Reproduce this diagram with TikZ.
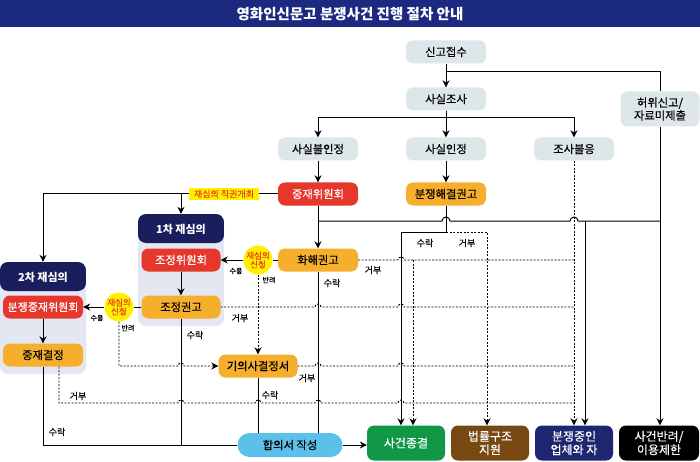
\documentclass[tikz,border=0pt]{standalone}
\usepackage{fontspec}
\setmainfont{Noto Sans CJK KR}
\newfontfamily\mdf{Noto Sans CJK KR}[FakeBold=0.35]
\usetikzlibrary{arrows.meta}

\definecolor{ttl}{RGB}{27,42,128}
\definecolor{gybg}{RGB}{221,231,233}
\definecolor{rdbg}{RGB}{230,55,45}
\definecolor{ogbg}{RGB}{246,175,44}
\definecolor{hdr}{RGB}{26,30,92}
\definecolor{grpbg}{RGB}{226,231,241}
\definecolor{yel}{RGB}{255,240,0}
\definecolor{rdtx}{RGB}{232,70,30}
\definecolor{sky}{RGB}{92,192,234}
\definecolor{grn}{RGB}{16,152,72}
\definecolor{brn}{RGB}{120,72,18}
\definecolor{nvy}{RGB}{30,38,112}

\begin{document}
\begin{tikzpicture}[
		x=1pt, y=-1pt
		,every node/.append style={inner sep=1pt, align=center}
		,box/.style={rounded corners=7pt, minimum width=80pt, minimum height=23pt, font=\mdf\fontsize{11.3}{12.8}\selectfont}
		,gy/.style={box, fill=gybg}
		,rd/.style={box, fill=rdbg, text=white}
		,og/.style={box, fill=ogbg}
		,fin/.style={box, minimum width=78pt, minimum height=35pt, text=white, font=\mdf\fontsize{12}{13.5}\selectfont}
		,grp/.style={fill=grpbg, rounded corners=8pt, minimum width=86pt, minimum height=112pt,
			path picture={\fill[hdr] (path picture bounding box.north west) rectangle ([yshift=-29pt]path picture bounding box.north east);}}
		,hd/.style={text=white, font=\bfseries\fontsize{11}{12}\selectfont}
		,yc/.style={circle, fill=yel, text=rdtx, minimum size=29pt, inner sep=0pt, font=\mdf\fontsize{8.5}{9}\selectfont}
		,yb/.style={fill=yel, text=rdtx, minimum width=70pt, minimum height=12pt, inner sep=0.5pt, font=\mdf\fontsize{9}{9.5}\selectfont}
		,lbl/.style={font=\mdf\fontsize{9}{10}\selectfont}
		,sm/.style={font=\mdf\fontsize{7}{7.5}\selectfont}
		,ln/.style={line width=1pt}
		,arr/.style={ln, -{Stealth[length=7pt,width=7pt]}}
		,rej/.style={line width=0.9pt, dash pattern=on 2pt off 1.5pt}
		,rarr/.style={rej, -{Stealth[length=7pt,width=7pt]}}
	]
	\useasboundingbox (0,0) rectangle (700,462);
	\fill[white] (0,0) rectangle (700,462);
	\fill[ttl] (0,0) rectangle (700,27);
	\node [text=white, font=\bfseries\fontsize{14.5}{16}\selectfont] (title) at (350,14) {영화인신문고 분쟁사건 진행 절차 안내};

	% top part
	\node [gy] (rcv) at (446,52) {신고접수};
	\node [gy] (inv) at (446,99) {사실조사};
	\node [gy, minimum width=79pt, minimum height=35pt] (fake) at (660,109) {허위신고/\\자료미제출};
	\node [gy] (nofact) at (318,149) {사실불인정};
	\node [gy] (fact) at (446,149) {사실인정};
	\node [gy] (refuse) at (574,149) {조사불응};
	\node [rd] (arb) at (318,194) {중재위원회};
	\node [og] (rec) at (446,194) {분쟁해결권고};
	\node [yb] (ex) at (224,194) {재심의 직권개최};

	% review groups
	\node [grp] (g1) at (181,270) {};
	\node [hd] (g1h) at (181,229) {1차 재심의};
	\node [rd, minimum width=79pt] (medc) at (181,260) {조정위원회};
	\node [og, minimum width=79pt] (medr) at (181,307) {조정권고};
	\node [grp] (g2) at (43,318) {};
	\node [hd] (g2h) at (43,277) {2차 재심의};
	\node [rd, inner sep=0pt, font=\mdf\fontsize{11}{12.5}\selectfont] (dcom) at (43,307) {분쟁중재위원회};
	\node [og] (adec) at (43,355) {중재결정};

	\node [og] (conc) at (318,260) {화해권고};
	\node [yc] (ap1) at (258,260) {재심의\\신청};
	\node [yc, minimum size=28pt] (ap2) at (119,307) {재심의\\신청};
	\node [og, minimum width=79pt] (decl) at (258,366) {기의사결정서};
	\node [box, fill=sky, rounded corners=12pt, minimum width=105pt, minimum height=24pt] (agr) at (290,445) {합의서 작성};

	% results
	\node [fin, fill=grn] (close) at (406,443) {사건종결};
	\node [fin, fill=brn] (legal) at (490,443) {법률구조\\지원};
	\node [fin, fill=nvy] (notice) at (574,443) {분쟁중인\\업체와 자};
	\node [fin, fill=black, minimum width=80pt] (reject) at (659,443) {사건반려/\\이용제한};

	\coordinate (top) at (446,72);
	\coordinate (sp) at (446,118);
	\coordinate (ja) at (318,221);
	\coordinate (jb) at (585,221);
	\coordinate (rj) at (446,232);
	\coordinate (rk) at (413,260);

	% solid
	\draw[arr] (rcv) -- (inv);
	\draw[ln] (top) -| (fake.north);
	\draw[arr] (inv) -- (fact);
	\draw[arr] (sp) -| (nofact.north);
	\draw[arr] (sp) -| (refuse.north);
	\draw[arr] (nofact) -- (arb);
	\draw[arr] (fact) -- (rec);
	\draw[arr] (arb) -- (conc);
	\draw[ln] (arb.west) -- (ex.east);
	\draw[arr] (ex.west) -| (g2.north);
	\draw[arr] (g1.north |- ex.west) -- (g1.north);
	\draw[ln] (ja) -- (442,221) arc[start angle=180, end angle=0, radius=4pt] -- (570,221) arc[start angle=180, end angle=0, radius=4pt] -- (fake.south |- ja);
	\draw[arr] (fake.south) -- (fake.south |- reject.north);
	\draw[arr] (jb) -- (jb |- notice.north);
	\draw[arr] (rec.south) -- (rj) -| ([xshift=-5pt]close.north);
	\draw[ln] (conc.west) -- (ap1.east);
	\draw[arr] (ap1.west) -- (medc.east);
	\draw[arr] (medc) -- (medr);
	\draw[ln] (medr.west) -- (ap2.east);
	\draw[arr] (ap2.west) -- (dcom.east);
	\draw[arr] (dcom) -- (adec);
	\draw[ln] (adec.south) |- (agr.west);
	\draw[ln] (medr.south) -- (medr.south |- agr.west);
	\draw[ln] (conc.south) -- (conc.south |- agr.north);
	\draw[ln] (decl.south) -- (decl.south |- agr.north);
	\draw[arr] (agr.east) -- (agr.east -| close.west);

	% dotted
	\draw[rarr] (refuse.south) -- (refuse.south |- notice.north);
	\draw[rarr] (rj) -| ([xshift=-3pt]legal.north);
	\draw[rej] (conc.east) -- (398,260) arc[start angle=180, end angle=0, radius=3pt] -- (574,260);
	\draw[rarr] (rk) -- ([xshift=7pt]close.north);
	\draw[rej] (medr.east) -- (315,307) arc[start angle=180, end angle=0, radius=3pt] -- (398,307) arc[start angle=180, end angle=0, radius=3pt] -- (574,307);
	\draw[rej] (decl.east) -- (315,366) arc[start angle=180, end angle=0, radius=3pt] -- (398,366) arc[start angle=180, end angle=0, radius=3pt] -- (574,366);
	\draw[rarr] (ap1.south) -- (decl.north);
	\draw[rarr] (ap2.south) -- (119,366) -- (178,366) arc[start angle=180, end angle=0, radius=3pt] -- (decl.west);
	\draw[rej] ([xshift=16pt]adec.south) -- (59,403) -- (178,403) arc[start angle=180, end angle=0, radius=3pt] -- (255,403) arc[start angle=180, end angle=0, radius=3pt] -- (315,403) arc[start angle=180, end angle=0, radius=3pt] -- (398,403) arc[start angle=180, end angle=0, radius=3pt] -- (574,403);

	% labels
	\node [lbl] (l1) at (425,243) {수락};
	\node [lbl] (l2) at (467,243) {거부};
	\node [lbl] (l3) at (373,270) {거부};
	\node [lbl] (l4) at (332,283) {수락};
	\node [sm] (l5) at (236,271) {수용};
	\node [sm] (l6) at (269,280) {반려};
	\node [sm] (l7) at (97,318) {수용};
	\node [sm] (l8) at (128,328) {반려};
	\node [lbl] (l9) at (240,318) {거부};
	\node [lbl] (l10) at (195,335) {수락};
	\node [lbl] (l11) at (307,378) {거부};
	\node [lbl] (l12) at (270,395) {수락};
	\node [lbl] (l13) at (78,396) {거부};
	\node [lbl] (l14) at (57,432) {수락};
\end{tikzpicture}
\end{document}
